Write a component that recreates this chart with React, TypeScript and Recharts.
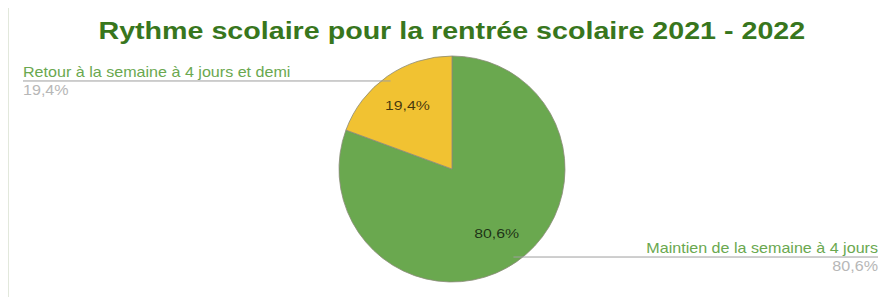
import React from 'react';
import { PieChart, Pie, Cell } from 'recharts';

const labels = ['Maintien de la semaine à 4 jours', 'Retour à la semaine à 4 jours et demi'];
const shares = [80.6, 19.4];
const colors = ['#6aa84f', '#f1c232'];

const data = labels.map((name, i) => ({ name, value: shares[i] }));

const RADIAN = Math.PI / 180;
const font = '"Liberation Sans", Arial, sans-serif';

const fmt = (p: number) => (p * 100).toFixed(1).replace('.', ',') + '%';

const Wide = ({ x, y, anchor, size, fill, opacity, sx, children }: any) => (
  <text
    transform={`translate(${x} ${y}) scale(${sx ?? 1.15} 1)`}
    textAnchor={anchor}
    fontSize={size}
    fill={fill}
    fillOpacity={opacity ?? 1}
  >
    {children}
  </text>
);

const renderLabel = (props: any) => {
  const { cx, cy, midAngle, outerRadius, percent, name, index } = props;
  const inR = outerRadius * 0.69;
  const ix = cx + inR * Math.cos(-midAngle * RADIAN);
  const iy = cy + inR * Math.sin(-midAngle * RADIAN);
  const edgeR = outerRadius * 0.95;
  const ex = cx + edgeR * Math.cos(-midAngle * RADIAN);
  const ey = cy + edgeR * Math.sin(-midAngle * RADIAN);
  const left = ex < cx;
  const tx = left ? 23 : 878;
  const anchor = left ? 'start' : 'end';
  return (
    <g key={`lbl-${index}`} style={{ fontFamily: font }}>
      <Wide x={ix} y={iy + 5} anchor="middle" size={13} sx={1.22} fill="#000" opacity={0.72}>
        {fmt(percent)}
      </Wide>
      <line x1={ex} y1={ey} x2={tx} y2={ey} stroke="#9e9e9e" strokeWidth={1} />
      <Wide x={tx} y={ey - 4} anchor={anchor} size={14} fill="#6aa84f">
        {name}
      </Wide>
      <Wide x={tx} y={ey + 14} anchor={anchor} size={14} fill="#b7b7b7">
        {fmt(percent)}
      </Wide>
    </g>
  );
};

export default function App() {
  return (
    <div style={{ position: 'absolute', left: 0, top: 0, width: 886, height: 297, background: '#fff', overflow: 'hidden' }}>
      <div style={{ position: 'absolute', left: 8, top: 8, width: 1, height: 289, background: '#e2e8dc' }} />
      <div
        style={{
          position: 'absolute',
          left: 0,
          top: 14,
          width: 903,
          textAlign: 'center',
          fontFamily: font,
          fontWeight: 'bold',
          fontSize: 23,
          color: '#38761d',
          lineHeight: '34px',
        }}
      >
        <span style={{ display: 'inline-block', transform: 'scaleX(1.245)', transformOrigin: 'center' }}>
          Rythme scolaire pour la rentrée scolaire 2021 - 2022
        </span>
      </div>
      <PieChart
        width={886}
        height={297}
        margin={{ top: 0, right: 0, bottom: 0, left: 0 }}
        style={{ position: 'absolute', left: 0, top: 0 }}
      >
        <Pie
          data={data}
          dataKey="value"
          nameKey="name"
          cx={452}
          cy={169}
          outerRadius={113}
          startAngle={90}
          endAngle={-270}
          stroke="#8c8c7a"
          strokeWidth={0.8}
          label={renderLabel}
          labelLine={false}
          isAnimationActive={false}
        >
          {data.map((d, i) => (
            <Cell key={d.name} fill={colors[i]} />
          ))}
        </Pie>
      </PieChart>
    </div>
  );
}
